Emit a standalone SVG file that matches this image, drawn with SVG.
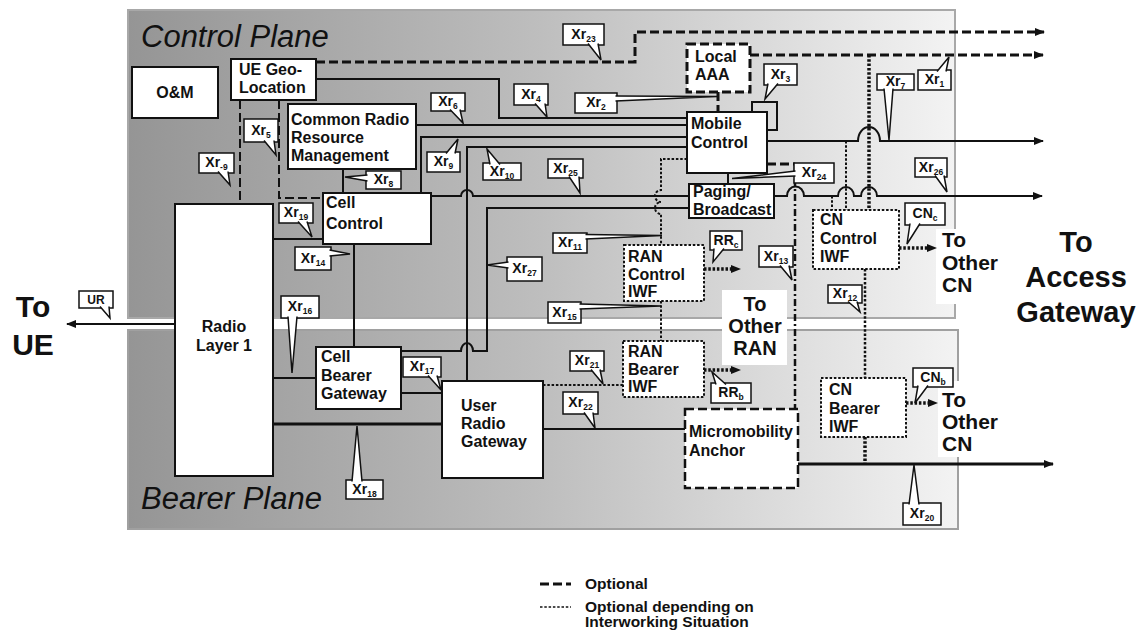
<svg xmlns="http://www.w3.org/2000/svg" width="1143" height="636" viewBox="0 0 1143 636">
<defs>
<linearGradient id="gc" x1="0" y1="0" x2="1" y2="0"><stop offset="0" stop-color="#959595"/><stop offset="0.5" stop-color="#bebebe"/><stop offset="1" stop-color="#f3f3f3"/></linearGradient>
<linearGradient id="gb" x1="0" y1="0" x2="1" y2="0"><stop offset="0" stop-color="#959595"/><stop offset="0.5" stop-color="#bebebe"/><stop offset="1" stop-color="#f3f3f3"/></linearGradient>
<marker id="ah" viewBox="0 0 10 8" refX="9" refY="4" markerWidth="10" markerHeight="8" markerUnits="userSpaceOnUse" orient="auto"><path d="M0,0 L10,4 L0,8 z" fill="#111"/></marker>
<style>
.c{fill:none;stroke:#111;stroke-width:2}
.thick{stroke-width:3}
.dsh{stroke-dasharray:9,4;stroke-width:3}
.dot{stroke-dasharray:2.5,1.8}
.bdot{stroke-dasharray:2.5,1.8;stroke-width:3.5}
.dd{stroke-dasharray:7,3,2,3;stroke-width:2.5}
.n rect{fill:#fff;stroke:#111;stroke-width:2}
.n rect.dotted{stroke-dasharray:2.5,1.8}
.n rect.dashed{stroke-dasharray:9,4;stroke-width:3}
.n text{font-family:'Liberation Sans',Arial,sans-serif;font-weight:bold;font-size:16px;fill:#111}
.co rect,.co path{fill:#fff;stroke:#111;stroke-width:1.5}
.co text{font-family:'Liberation Sans',Arial,sans-serif;font-weight:bold;font-size:14px;fill:#111;text-anchor:middle}
.co tspan{font-size:8.5px}
.big{font-family:'Liberation Sans',Arial,sans-serif;font-weight:bold;fill:#111}
.pl{font-family:'Liberation Sans',Arial,sans-serif;font-style:italic;font-size:31px;fill:#111}
.lg{font-family:'Liberation Sans',Arial,sans-serif;font-weight:bold;font-size:15.5px;fill:#111}
</style>
</defs>
<rect width="1143" height="636" fill="#fff"/>
<g id="planes">
<rect x="128" y="10" width="827" height="308" fill="url(#gc)" stroke="#a8a8a8" stroke-width="2"/>
<rect x="128" y="330" width="830" height="199" fill="url(#gb)" stroke="#a0a0a0" stroke-width="2"/>
<rect x="722" y="290" width="65" height="75" fill="#fff"/>
<rect x="936" y="229" width="24" height="75" fill="#fff"/>
<rect x="938" y="381" width="24" height="76" fill="#fff"/>
<text class="pl" x="141" y="47">Control Plane</text>
<text class="pl" x="141" y="509">Bearer Plane</text>
</g>
<g id="connectors">
<path class="c dsh" d="M316,62 H635 V32 H1044" marker-end="url(#ah)"/>
<path class="c dsh" d="M750,55 H1043" marker-end="url(#ah)"/>
<path class="c" d="M316,79 H499 V118 H687"/>
<path class="c dsh" d="M718,92 V112"/>
<path class="c" d="M752,112 V102 H777 V130 H767"/>
<path class="c" d="M416,125 H687"/>
<path class="c" d="M421,193 V137 H687"/>
<path class="c" d="M467,381 V147 H687"/>
<path class="c" d="M767,141 H858 A11,14 0 0 1 880,141 H1043" marker-end="url(#ah)"/>
<path class="c" d="M343,169 V193"/>
<path class="c dsh" style="stroke-width:2" d="M279,100 V198 H323"/>
<path class="c dsh" style="stroke-width:2" d="M240,100 V204"/>
<path class="c" d="M431,196 H461 A6,6 0 0 1 473,196 H689"/>
<path class="c" d="M401,351 H461 A6,8 0 0 1 473,351 H487 V208 H689"/>
<path class="c" d="M273,239 H323"/>
<path class="c" d="M354,244 V347"/>
<path class="c" d="M728,173 V184"/>
<path class="c" d="M774,196 H787 A8,9 0 0 1 804,196 H838 A8,9 0 0 1 854,196 H861 A8,9 0 0 1 877,196 H1042" marker-end="url(#ah)"/>
<path class="c dsh" d="M767,164 H795"/>
<path class="c dd" d="M795,164 V409"/>
<path class="c dot" d="M687,159 H661 V190 A6,6 0 0 0 661,202 A6,6 0 0 0 661,214 V245"/>
<path class="c dot" d="M661,301 V341"/>
<path class="c bdot" d="M704,269 H732"/>
<path class="c" style="stroke:none" d="M730,269 H740" marker-end="url(#ah)"/>
<path class="c bdot" d="M704,370 H732"/>
<path class="c" style="stroke:none" d="M730,370 H740" marker-end="url(#ah)"/>
<path class="c bdot" d="M899,248 H928"/>
<path class="c" style="stroke:none" d="M926,248 H936" marker-end="url(#ah)"/>
<path class="c bdot" d="M906,403 H928"/>
<path class="c" style="stroke:none" d="M926,403 H937" marker-end="url(#ah)"/>
<path class="c bdot" d="M869,55 V210"/>
<path class="c dot" d="M846,141 V210"/>
<path class="c dot" d="M832,196 V210"/>
<path class="c bdot" style="stroke-width:2.5" d="M865,269 V378"/>
<path class="c bdot" d="M865,437 V464"/>
<path class="c" d="M273,378 H316"/>
<path class="c thick" d="M273,424 H442"/>
<path class="c" d="M401,393 H442"/>
<path class="c dot" d="M543,385 H623"/>
<path class="c" d="M543,429 H685"/>
<path class="c thick" d="M798,464 H1053" marker-end="url(#ah)"/>
<path class="c" d="M175,324 H67" marker-end="url(#ah)"/>
</g>
<g id="om" class="n"><rect x="132" y="67" width="86" height="51"/><text x="175" y="98" text-anchor="middle">O&amp;M</text></g>
<g id="uegeo" class="n"><rect x="231" y="59" width="85" height="41"/><text x="239" y="75">UE Geo-</text><text x="239" y="93">Location</text></g>
<g id="crrm" class="n"><rect x="288" y="104" width="128" height="65"/><text x="291" y="125">Common Radio</text><text x="291" y="143">Resource</text><text x="291" y="161">Management</text></g>
<g id="cellcontrol" class="n"><rect x="323" y="193" width="108" height="51"/><text x="326" y="208">Cell</text><text x="326" y="229">Control</text></g>
<g id="radiol1" class="n"><rect x="175" y="204" width="98" height="272"/><text x="224" y="332" text-anchor="middle">Radio</text><text x="224" y="351" text-anchor="middle">Layer 1</text></g>
<g id="cbg" class="n"><rect x="316" y="347" width="85" height="62"/><text x="321" y="362">Cell</text><text x="321" y="381">Bearer</text><text x="321" y="399">Gateway</text></g>
<g id="urg" class="n"><rect x="442" y="381" width="101" height="97"/><text x="461" y="411">User</text><text x="461" y="429">Radio</text><text x="461" y="447">Gateway</text></g>
<g id="localaaa" class="n"><rect class="dashed" x="687" y="44" width="63" height="48"/><text x="695" y="62">Local</text><text x="695" y="80">AAA</text></g>
<g id="mobilecontrol" class="n"><rect x="687" y="112" width="80" height="61"/><text x="691" y="129">Mobile</text><text x="691" y="148">Control</text></g>
<g id="paging" class="n"><rect x="689" y="184" width="85" height="34"/><text x="693" y="197">Paging/</text><text x="693" y="215">Broadcast</text></g>
<g id="rancontroliwf" class="n"><rect class="dotted" x="624" y="245" width="80" height="56"/><text x="628" y="262">RAN</text><text x="628" y="280">Control</text><text x="628" y="297">IWF</text></g>
<g id="ranbeareriwf" class="n"><rect class="dotted" x="623" y="341" width="81" height="56"/><text x="628" y="357">RAN</text><text x="628" y="375">Bearer</text><text x="628" y="392">IWF</text></g>
<g id="micromobility" class="n"><rect class="dashed" style="stroke-width:2.5" x="685" y="409" width="113" height="79"/><text x="689" y="437">Micromobility</text><text x="689" y="456">Anchor</text></g>
<g id="cncontroliwf" class="n"><rect class="dotted" x="813" y="210" width="86" height="59"/><text x="820" y="225">CN</text><text x="820" y="244">Control</text><text x="820" y="262">IWF</text></g>
<g id="cnbeareriwf" class="n"><rect class="dotted" x="821" y="378" width="85" height="59"/><text x="829" y="395">CN</text><text x="829" y="414">Bearer</text><text x="829" y="432">IWF</text></g>
<g id="callouts">
<g class="co"><rect x="563" y="24" width="41" height="21"/><path d="M588,43.5 L601,60 L598,43.5"/><text x="583.5" y="39">Xr<tspan dy="3">23</tspan></text></g>
<g class="co"><rect x="918" y="70" width="33" height="20"/><path d="M937,71.5 L949,57 L946,71.5"/><text x="934.5" y="84">Xr<tspan dy="3">1</tspan></text></g>
<g class="co"><rect x="877" y="74" width="37" height="16"/><path d="M884,88.5 L889,140 L893,88.5"/><text x="895.5" y="86">Xr<tspan dy="3">7</tspan></text></g>
<g class="co"><rect x="764" y="64" width="33" height="21"/><path d="M768,83.5 L765,99 L778,83.5"/><text x="780.5" y="79">Xr<tspan dy="3">3</tspan></text></g>
<g class="co"><rect x="575" y="93" width="42" height="20"/><path d="M615.5,96 L717,96.5 L615.5,101"/><text x="596" y="107">Xr<tspan dy="3">2</tspan></text></g>
<g class="co"><rect x="514" y="84" width="34" height="21"/><path d="M535,103.5 L547,117 L545,103.5"/><text x="531" y="99">Xr<tspan dy="3">4</tspan></text></g>
<g class="co"><rect x="431" y="93" width="34" height="18"/><path d="M450,109.5 L463,123 L460,109.5"/><text x="448" y="106">Xr<tspan dy="3">6</tspan></text></g>
<g class="co"><rect x="244" y="119" width="34" height="23"/><path d="M264,140.5 L276,155 L274,140.5"/><text x="261" y="135">Xr<tspan dy="3">5</tspan></text></g>
<g class="co"><rect x="199" y="153" width="35" height="20"/><path d="M218,171.5 L230,185 L228,171.5"/><text x="216.5" y="167">Xr<tspan dy="3">-9</tspan></text></g>
<g class="co"><rect x="366" y="171" width="35" height="18"/><path d="M367.5,175 L345,177 L367.5,181"/><text x="383.5" y="184">Xr<tspan dy="3">8</tspan></text></g>
<g class="co"><rect x="427" y="152" width="33" height="20"/><path d="M446,153.5 L458,139 L455,153.5"/><text x="443.5" y="166">Xr<tspan dy="3">9</tspan></text></g>
<g class="co"><rect x="483" y="163" width="38" height="17"/><path d="M490,164.5 L487,149 L500,164.5"/><text x="502" y="176">Xr<tspan dy="3">10</tspan></text></g>
<g class="co"><rect x="548" y="159" width="35" height="19"/><path d="M569,176.5 L580,193 L579,176.5"/><text x="565.5" y="173">Xr<tspan dy="3">25</tspan></text></g>
<g class="co"><rect x="794" y="163" width="40" height="20"/><path d="M795.5,171 L732,178.5 L795.5,176"/><text x="814" y="177">Xr<tspan dy="3">24</tspan></text></g>
<g class="co"><rect x="915" y="158" width="32" height="19"/><path d="M935,175.5 L947,192 L944,175.5"/><text x="931" y="172">Xr<tspan dy="3">26</tspan></text></g>
<g class="co"><rect x="279" y="203" width="34" height="20"/><path d="M298,221.5 L312,237 L307,221.5"/><text x="296" y="217">Xr<tspan dy="3">19</tspan></text></g>
<g class="co"><rect x="295" y="247" width="36" height="23"/><path d="M329.5,250 L350,254 L329.5,256"/><text x="313" y="263">Xr<tspan dy="3">14</tspan></text></g>
<g class="co"><rect x="507" y="257" width="35" height="24"/><path d="M508.5,262 L487,265 L508.5,268"/><text x="524.5" y="273">Xr<tspan dy="3">27</tspan></text></g>
<g class="co"><rect x="553" y="233" width="34" height="20"/><path d="M585.5,234.5 L662,235.5 L585.5,239"/><text x="570" y="247">Xr<tspan dy="3">11</tspan></text></g>
<g class="co"><rect x="548" y="302" width="33" height="21"/><path d="M579.5,304 L661,306 L579.5,309"/><text x="564.5" y="317">Xr<tspan dy="3">15</tspan></text></g>
<g class="co"><rect x="281" y="296" width="38" height="22"/><path d="M288,316.5 L292,373 L297,316.5"/><text x="300" y="311">Xr<tspan dy="3">16</tspan></text></g>
<g class="co"><rect x="403" y="357" width="38" height="20"/><path d="M428,375.5 L441,390 L437,375.5"/><text x="422" y="371">Xr<tspan dy="3">17</tspan></text></g>
<g class="co"><rect x="346" y="480" width="37" height="19"/><path d="M352,481.5 L357,426 L362,481.5"/><text x="364.5" y="494">Xr<tspan dy="3">18</tspan></text></g>
<g class="co"><rect x="570" y="351" width="34" height="20"/><path d="M591,369.5 L603,384 L600,369.5"/><text x="587" y="365">Xr<tspan dy="3">21</tspan></text></g>
<g class="co"><rect x="563" y="392" width="35" height="22"/><path d="M584,412.5 L595,428 L593,412.5"/><text x="580.5" y="407">Xr<tspan dy="3">22</tspan></text></g>
<g class="co"><rect x="759" y="246" width="34" height="21"/><path d="M780,265.5 L792,280 L789,265.5"/><text x="776" y="261">Xr<tspan dy="3">13</tspan></text></g>
<g class="co"><rect x="828" y="285" width="34" height="18"/><path d="M848,301.5 L860,312 L857,301.5"/><text x="845" y="298">Xr<tspan dy="3">12</tspan></text></g>
<g class="co"><rect x="903" y="503" width="38" height="22"/><path d="M909,504.5 L914,465 L919,504.5"/><text x="922" y="518">Xr<tspan dy="3">20</tspan></text></g>
<g class="co"><rect x="710" y="231" width="32" height="19"/><path d="M714,248.5 L713,262 L724,248.5"/><text x="726" y="245">RR<tspan dy="3">c</tspan></text></g>
<g class="co"><rect x="711" y="383" width="40" height="20"/><path d="M716,384.5 L712,372 L726,384.5"/><text x="731" y="397">RR<tspan dy="3">b</tspan></text></g>
<g class="co"><rect x="905" y="203" width="40" height="22"/><path d="M910,223.5 L907,244 L920,223.5"/><text x="925" y="218">CN<tspan dy="3">c</tspan></text></g>
<g class="co"><rect x="913" y="368" width="40" height="19"/><path d="M918,385.5 L915,403 L928,385.5"/><text x="933" y="382">CN<tspan dy="3">b</tspan></text></g>
<g class="co"><rect x="79" y="291" width="34" height="17"/><path d="M100,306.5 L110,318 L109,306.5"/><text x="96" y="304" style="font-size:12px">UR</text></g>
</g>
<g id="labels">
<text class="big" font-size="30" text-anchor="middle"><tspan x="33" y="317">To</tspan><tspan x="33" y="355">UE</tspan></text>
<text class="big" font-size="29" text-anchor="middle"><tspan x="1076" y="252">To</tspan><tspan x="1076" y="287">Access</tspan><tspan x="1076" y="322">Gateway</tspan></text>
<text class="big" font-size="20" text-anchor="middle"><tspan x="755" y="311">To</tspan><tspan x="755" y="333">Other</tspan><tspan x="755" y="355">RAN</tspan></text>
<text class="big" font-size="21"><tspan x="942" y="247">To</tspan><tspan x="942" y="270">Other</tspan><tspan x="942" y="292">CN</tspan></text>
<text class="big" font-size="21"><tspan x="942" y="407">To</tspan><tspan x="942" y="429">Other</tspan><tspan x="942" y="451">CN</tspan></text>
</g>
<g id="legend">
<line class="c dsh" x1="540" y1="584" x2="571" y2="584"/>
<text class="lg" x="585" y="589">Optional</text>
<line class="c dot" style="stroke-width:1.5" x1="540" y1="607" x2="571" y2="607"/>
<text class="lg" x="585" y="612">Optional depending on</text>
<text class="lg" x="585" y="627">Interworking Situation</text>
</g>
</svg>
